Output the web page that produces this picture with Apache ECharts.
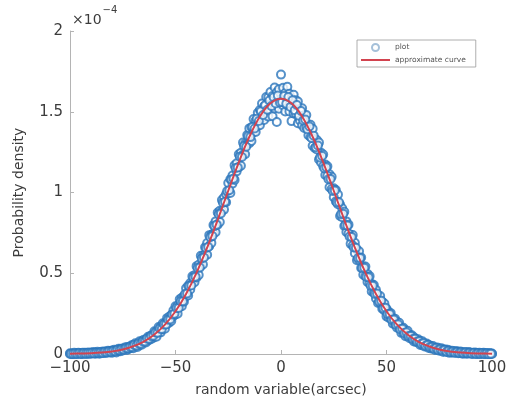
<!DOCTYPE html>
<html>
<head>
<meta charset="utf-8">
<script src="https://cdn.jsdelivr.net/npm/echarts@6/dist/echarts.min.js"></script>
<style>
  html, body { margin: 0; padding: 0; background: #fff; }
  #chart { width: 513px; height: 412px; }
</style>
</head>
<body>
<div id="chart"></div>
<script>
// values in units of 1e-4
const xTicks = [-100, -50, 0, 50, 100];
const yTicks = [0, 0.5, 1, 1.5, 2];

// approximate curve, sampled every 5 arcsec from -100 to 100
const curveX = [-100, -95, -90, -85, -80, -75, -70, -65, -60, -55, -50, -45, -40, -35, -30, -25, -20, -15, -10, -5,
  0, 5, 10, 15, 20, 25, 30, 35, 40, 45, 50, 55, 60, 65, 70, 75, 80, 85, 90, 95, 100];
const curveY = [0.001, 0.003, 0.005, 0.009, 0.016, 0.028, 0.048, 0.077, 0.121, 0.182, 0.265, 0.372, 0.504, 0.659, 0.831, 1.011, 1.187, 1.345, 1.471, 1.552,
  1.580, 1.552, 1.471, 1.345, 1.187, 1.011, 0.831, 0.659, 0.504, 0.372, 0.265, 0.182, 0.121, 0.077, 0.048, 0.028, 0.016, 0.009, 0.005, 0.003, 0.001];

// plotted samples: two per arcsec from -100 to 100, one between each pair
const sampleStart = -100;
const sampleHigh = [
  0.005, 0.003, 0.007, 0.005, 0.008, 0.005, 0.007, 0.008, 0.007, 0.010,
  0.008, 0.012, 0.010, 0.014, 0.010, 0.014, 0.016, 0.015, 0.020, 0.019,
  0.022, 0.027, 0.024, 0.033, 0.033, 0.033, 0.041, 0.043, 0.043, 0.053,
  0.058, 0.067, 0.064, 0.079, 0.079, 0.089, 0.090, 0.107, 0.112, 0.119,
  0.141, 0.141, 0.167, 0.170, 0.190, 0.190, 0.222, 0.230, 0.241, 0.269,
  0.295, 0.299, 0.339, 0.348, 0.359, 0.407, 0.423, 0.440, 0.481, 0.488,
  0.544, 0.553, 0.608, 0.609, 0.661, 0.687, 0.736, 0.738, 0.799, 0.821,
  0.876, 0.887, 0.953, 0.969, 0.990, 1.059, 1.082, 1.105, 1.168, 1.181,
  1.237, 1.246, 1.309, 1.303, 1.356, 1.397, 1.404, 1.455, 1.445, 1.494,
  1.511, 1.551, 1.534, 1.591, 1.590, 1.622, 1.597, 1.650, 1.621, 1.639,
  1.730,
  1.649, 1.616, 1.655, 1.612, 1.582, 1.605, 1.571, 1.564, 1.516, 1.521,
  1.479, 1.480, 1.420, 1.419, 1.395, 1.331, 1.325, 1.309, 1.246, 1.235,
  1.173, 1.163, 1.113, 1.097, 1.026, 1.015, 0.987, 0.925, 0.902, 0.881,
  0.821, 0.801, 0.738, 0.737, 0.689, 0.644, 0.636, 0.598, 0.543, 0.542,
  0.496, 0.482, 0.434, 0.427, 0.397, 0.359, 0.359, 0.323, 0.312, 0.280,
  0.261, 0.253, 0.222, 0.219, 0.200, 0.193, 0.163, 0.163, 0.145, 0.144,
  0.119, 0.116, 0.104, 0.091, 0.091, 0.080, 0.079, 0.065, 0.065, 0.057,
  0.050, 0.049, 0.039, 0.041, 0.034, 0.036, 0.028, 0.028, 0.027, 0.020,
  0.020, 0.016, 0.018, 0.014, 0.015, 0.010, 0.012, 0.010, 0.012, 0.008,
  0.008, 0.010, 0.006, 0.008, 0.005, 0.008, 0.006, 0.005, 0.006, 0.003
];
const sampleLow = [
  0.000, 0.000, 0.000, 0.000, 0.001, 0.000, 0.000, 0.001, 0.000, 0.001,
  0.001, 0.004, 0.001, 0.004, 0.002, 0.007, 0.006, 0.006, 0.010, 0.010,
  0.008, 0.014, 0.010, 0.018, 0.017, 0.022, 0.029, 0.025, 0.032, 0.038,
  0.036, 0.047, 0.043, 0.056, 0.057, 0.072, 0.071, 0.084, 0.090, 0.096,
  0.106, 0.107, 0.134, 0.134, 0.155, 0.157, 0.186, 0.193, 0.205, 0.236,
  0.245, 0.250, 0.293, 0.296, 0.324, 0.358, 0.362, 0.400, 0.438, 0.445,
  0.474, 0.489, 0.545, 0.554, 0.614, 0.614, 0.667, 0.688, 0.746, 0.754,
  0.801, 0.817, 0.885, 0.894, 0.940, 0.999, 0.997, 1.055, 1.078, 1.131,
  1.157, 1.166, 1.234, 1.237, 1.301, 1.305, 1.319, 1.375, 1.375, 1.414,
  1.416, 1.461, 1.449, 1.501, 1.470, 1.512, 1.472, 1.520, 1.436, 1.519,
  1.560,
  1.539, 1.501, 1.540, 1.502, 1.442, 1.490, 1.491, 1.429, 1.446, 1.416,
  1.399, 1.405, 1.355, 1.344, 1.290, 1.276, 1.267, 1.204, 1.186, 1.162,
  1.108, 1.103, 1.033, 1.022, 0.971, 0.945, 0.927, 0.855, 0.847, 0.793,
  0.756, 0.746, 0.682, 0.672, 0.624, 0.581, 0.582, 0.533, 0.491, 0.482,
  0.446, 0.436, 0.387, 0.379, 0.344, 0.316, 0.316, 0.280, 0.269, 0.233,
  0.224, 0.219, 0.187, 0.185, 0.162, 0.160, 0.131, 0.128, 0.110, 0.110,
  0.098, 0.094, 0.078, 0.075, 0.072, 0.056, 0.055, 0.046, 0.047, 0.037,
  0.034, 0.034, 0.025, 0.028, 0.020, 0.020, 0.013, 0.017, 0.011, 0.007,
  0.011, 0.007, 0.010, 0.005, 0.006, 0.002, 0.003, 0.001, 0.004, 0.001,
  0.000, 0.001, 0.000, 0.000, 0.001, 0.000, 0.000, 0.000, 0.000, 0.000
];
// half-arcsec samples, x = -99.5 ... 99.5
const sampleMid = [
  0.002, 0.001, 0.003, 0.002, 0.004, 0.002, 0.004, 0.003, 0.005, 0.004,
  0.006, 0.005, 0.008, 0.007, 0.010, 0.008, 0.012, 0.011, 0.015, 0.014,
  0.019, 0.017, 0.024, 0.023, 0.029, 0.028, 0.036, 0.035, 0.043, 0.044,
  0.055, 0.052, 0.065, 0.064, 0.078, 0.078, 0.094, 0.094, 0.110, 0.113,
  0.133, 0.131, 0.156, 0.155, 0.182, 0.183, 0.212, 0.214, 0.245, 0.249,
  0.285, 0.285, 0.327, 0.327, 0.372, 0.374, 0.421, 0.424, 0.473, 0.479,
  0.532, 0.535, 0.592, 0.597, 0.656, 0.663, 0.723, 0.730, 0.792, 0.801,
  0.865, 0.870, 0.937, 0.942, 1.009, 1.014, 1.081, 1.085, 1.152, 1.155,
  1.222, 1.220, 1.288, 1.283, 1.349, 1.343, 1.405, 1.396, 1.456, 1.443,
  1.503, 1.480, 1.540, 1.512, 1.569, 1.535, 1.590, 1.551, 1.600, 1.558,
  1.561, 1.598, 1.550, 1.591, 1.530, 1.571, 1.509, 1.542, 1.475, 1.505,
  1.446, 1.452, 1.392, 1.409, 1.338, 1.352, 1.280, 1.291, 1.216, 1.226,
  1.150, 1.156, 1.082, 1.084, 1.010, 1.012, 0.938, 0.940, 0.866, 0.868,
  0.797, 0.795, 0.727, 0.725, 0.659, 0.658, 0.594, 0.594, 0.533, 0.534,
  0.477, 0.475, 0.422, 0.423, 0.371, 0.374, 0.325, 0.329, 0.282, 0.287,
  0.247, 0.247, 0.212, 0.214, 0.181, 0.184, 0.154, 0.157, 0.130, 0.134,
  0.112, 0.111, 0.093, 0.095, 0.077, 0.079, 0.063, 0.066, 0.051, 0.056,
  0.043, 0.044, 0.034, 0.037, 0.027, 0.030, 0.022, 0.025, 0.016, 0.020,
  0.013, 0.016, 0.010, 0.013, 0.007, 0.011, 0.006, 0.009, 0.004, 0.007,
  0.003, 0.006, 0.002, 0.005, 0.001, 0.004, 0.001, 0.003, 0.000, 0.002
];

const font = "'DejaVu Sans', 'Noto Sans', sans-serif";
const textColor = '#3c3c3c';
const axisColor = '#b4b4b4';
const blue = '#2a76bb';
const red = '#d2434f';

const points = [];
sampleHigh.forEach((v, i) => points.push([sampleStart + i, v]));
sampleLow.forEach((v, i) => points.push([sampleStart + i, v]));
sampleMid.forEach((v, i) => points.push([sampleStart + 0.5 + i, v]));
const curve = curveX.map((x, i) => [x, curveY[i]]);

const minus = v => String(v).replace('-', '\u2212');

const chart = echarts.init(document.getElementById('chart'), null, { renderer: 'canvas' });

chart.setOption({
  animation: false,
  textStyle: { fontFamily: font },
  grid: { left: 70, right: 21, top: 31, bottom: 58, containLabel: false },
  legend: {
    orient: 'vertical',
    left: 357,
    top: 40,
    padding: [3, 10, 3, 3],
    itemGap: 4,
    itemWidth: 29,
    itemHeight: 7,
    borderColor: '#9a9a9a',
    borderWidth: 0.8,
    borderRadius: 0,
    backgroundColor: '#fff',
    textStyle: { fontSize: 7.5, color: '#555', fontFamily: font },
    data: [
      { name: 'plot', icon: 'emptyCircle', itemStyle: { color: '#8fb0d0', borderWidth: 0.8 } },
      { name: 'approximate curve', itemStyle: { color: 'rgba(0,0,0,0)', borderWidth: 0 } }
    ]
  },
  xAxis: {
    type: 'value',
    min: xTicks[0],
    max: xTicks[xTicks.length - 1],
    interval: xTicks[1] - xTicks[0],
    name: 'random variable(arcsec)',
    nameLocation: 'middle',
    nameGap: 29,
    nameTextStyle: { fontSize: 14, color: textColor, fontFamily: font },
    axisLine: { onZero: false, lineStyle: { color: axisColor, width: 1 } },
    axisTick: { inside: true, length: 4, lineStyle: { color: axisColor } },
    axisLabel: { fontSize: 15, color: textColor, margin: 7, formatter: minus },
    splitLine: { show: false }
  },
  yAxis: {
    type: 'value',
    min: yTicks[0],
    max: yTicks[yTicks.length - 1],
    interval: yTicks[1] - yTicks[0],
    name: 'Probability density',
    nameLocation: 'middle',
    nameGap: 44,
    nameTextStyle: { fontSize: 14, color: textColor, fontFamily: font },
    axisLine: { show: true, onZero: false, lineStyle: { color: axisColor, width: 1 } },
    axisTick: { show: true, inside: true, length: 4, lineStyle: { color: axisColor } },
    axisLabel: { fontSize: 15, color: textColor, margin: 7 },
    splitLine: { show: false }
  },
  graphic: [
    {
      type: 'text',
      left: 72,
      top: 5,
      style: {
        text: '{a|\u00d710}{b|\u22124}',
        rich: {
          a: { fontSize: 14, fill: textColor, fontFamily: font, padding: [8, 0, 0, 0] },
          b: { fontSize: 10, fill: textColor, fontFamily: font, verticalAlign: 'top', padding: [0, 0, 8, 1] }
        }
      }
    }
  ],
  series: [
    {
      name: 'plot',
      type: 'scatter',
      symbol: 'emptyCircle',
      symbolSize: 8,
      itemStyle: { color: blue, borderColor: blue, borderWidth: 2.6 },
      data: points,
      z: 2
    },
    {
      name: 'approximate curve',
      type: 'line',
      symbol: 'none',
      smooth: 0.4,
      lineStyle: { color: red, width: 2 },
      itemStyle: { color: red },
      data: curve,
      z: 3
    }
  ]
});
</script>
</body>
</html>
